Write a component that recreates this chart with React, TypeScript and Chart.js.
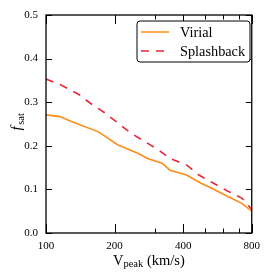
import React, { useEffect, useRef } from "react";
import { Chart, registerables } from "chart.js";

Chart.register(...registerables);

const virialV = [100, 115, 130, 170, 207, 253, 279, 323, 350, 414, 479, 537, 631, 724, 800];
const virialF = [0.271, 0.267, 0.255, 0.232, 0.202, 0.183, 0.171, 0.16, 0.144, 0.133, 0.114, 0.102, 0.083, 0.068, 0.05];
const splashV = [100, 117, 140, 157, 182, 207, 236, 265, 313, 350, 414, 469, 544, 623, 724, 760, 800];
const splashF = [0.353, 0.339, 0.317, 0.297, 0.275, 0.252, 0.229, 0.213, 0.19, 0.171, 0.156, 0.133, 0.114, 0.097, 0.08, 0.068, 0.054];
const xTicks = [100, 200, 400, 800];
const xMinorTicks = [300, 500, 600, 700];
const yTicks = [0, 0.1, 0.2, 0.3, 0.4, 0.5];
const seriesNames = ["Virial", "Splashback"];
const ORANGE = "#ff8c1a";
const RED = "#e8283a";
const FONT = "'Liberation Serif', 'DejaVu Serif', serif";

const decorPlugin = {
  id: "decor",
  afterDraw(chart: any) {
    const ctx = chart.ctx as CanvasRenderingContext2D;
    const a = chart.chartArea;
    const xs = chart.scales.x;
    const ys = chart.scales.y;
    ctx.save();
    // ticks
    ctx.strokeStyle = "#000";
    ctx.lineWidth = 1;
    ctx.beginPath();
    const xt = (v: number, len: number) => {
      const px = Math.round(xs.getPixelForValue(v)) + 0.5;
      ctx.moveTo(px, a.bottom);
      ctx.lineTo(px, a.bottom - len);
      ctx.moveTo(px, a.top);
      ctx.lineTo(px, a.top + len);
    };
    xTicks.forEach((v) => xt(v, 9));
    xMinorTicks.forEach((v) => xt(v, 4.5));
    yTicks.forEach((v) => {
      const py = Math.round(ys.getPixelForValue(v)) + 0.5;
      ctx.moveTo(a.left, py);
      ctx.lineTo(a.left + 6, py);
      ctx.moveTo(a.right, py);
      ctx.lineTo(a.right - 6, py);
    });
    ctx.stroke();
    // border
    ctx.lineWidth = 1.3;
    ctx.strokeRect(a.left, a.top, a.right - a.left, a.bottom - a.top);

    // legend
    const lx = 137, ly = 21, lw = 113, lh = 41, r = 3;
    ctx.beginPath();
    ctx.moveTo(lx + r, ly);
    ctx.lineTo(lx + lw - r, ly);
    ctx.arcTo(lx + lw, ly, lx + lw, ly + r, r);
    ctx.lineTo(lx + lw, ly + lh - r);
    ctx.arcTo(lx + lw, ly + lh, lx + lw - r, ly + lh, r);
    ctx.lineTo(lx + r, ly + lh);
    ctx.arcTo(lx, ly + lh, lx, ly + lh - r, r);
    ctx.lineTo(lx, ly + r);
    ctx.arcTo(lx, ly, lx + r, ly, r);
    ctx.closePath();
    ctx.fillStyle = "#fff";
    ctx.fill();
    ctx.lineWidth = 1;
    ctx.strokeStyle = "#000";
    ctx.stroke();

    ctx.lineWidth = 1.5;
    ctx.strokeStyle = ORANGE;
    ctx.beginPath();
    ctx.moveTo(141, 32);
    ctx.lineTo(169, 32);
    ctx.stroke();
    ctx.strokeStyle = RED;
    ctx.setLineDash([8, 7]);
    ctx.beginPath();
    ctx.moveTo(141, 51);
    ctx.lineTo(169, 51);
    ctx.stroke();
    ctx.setLineDash([]);

    ctx.fillStyle = "#000";
    ctx.font = `14.3px ${FONT}`;
    ctx.textAlign = "left";
    ctx.textBaseline = "alphabetic";
    ctx.fillText(seriesNames[0], 180, 36.5);
    ctx.fillText(seriesNames[1], 180, 55.5);

    // x axis title
    const big = `14.5px ${FONT}`;
    const small = `10.5px ${FONT}`;
    ctx.font = big;
    const wV = ctx.measureText("V").width;
    const wRest = ctx.measureText(" (km/s)").width;
    ctx.font = small;
    const wSub = ctx.measureText("peak").width;
    const total = wV + wSub + wRest;
    let x0 = (a.left + a.right) / 2 - total / 2;
    const base = 264.5;
    ctx.font = big;
    ctx.fillText("V", x0, base);
    x0 += wV;
    ctx.font = small;
    ctx.fillText("peak", x0, base + 2.5);
    x0 += wSub;
    ctx.font = big;
    ctx.fillText(" (km/s)", x0, base);

    // y axis title
    ctx.translate(21, 122);
    ctx.rotate(-Math.PI / 2);
    const fi = `italic 15px ${FONT}`;
    ctx.font = fi;
    const wf = ctx.measureText("f").width;
    ctx.font = small;
    const ws = ctx.measureText("sat").width;
    let y0 = -(wf + ws + 1) / 2;
    ctx.font = fi;
    ctx.fillText("f", y0, 0);
    ctx.font = small;
    ctx.fillText("sat", y0 + wf + 1.5, 2.5);
    ctx.restore();
  },
};

export default function App() {
  const ref = useRef<HTMLCanvasElement | null>(null);
  useEffect(() => {
    if (!ref.current) return;
    const chart = new Chart(ref.current, {
      type: "line",
      data: {
        datasets: [
          {
            label: seriesNames[0],
            data: virialV.map((v, i) => ({ x: v, y: virialF[i] })),
            borderColor: ORANGE,
            borderWidth: 1.6,
            pointRadius: 0,
            tension: 0,
            fill: false,
          },
          {
            label: seriesNames[1],
            data: splashV.map((v, i) => ({ x: v, y: splashF[i] })),
            borderColor: RED,
            borderWidth: 1.6,
            borderDash: [8, 7],
            pointRadius: 0,
            tension: 0,
            fill: false,
          },
        ],
      },
      options: {
        animation: false,
        responsive: false,
        devicePixelRatio: 1,
        layout: { padding: { left: 0, top: 15, right: 10, bottom: 0 } },
        plugins: { legend: { display: false }, tooltip: { enabled: false } },
        scales: {
          x: {
            type: "logarithmic",
            min: 100,
            max: 800,
            grid: { display: false, drawTicks: false },
            border: { display: false },
            afterBuildTicks: (s: any) => {
              s.ticks = xTicks.map((v) => ({ value: v }));
            },
            afterFit: (s: any) => {
              s.height = 39;
            },
            ticks: {
              autoSkip: false,
              maxRotation: 0,
              padding: 7,
              color: "#000",
              font: { family: FONT, size: 11 },
              callback: (v: any) => String(v),
            },
          },
          y: {
            min: 0,
            max: 0.5,
            grid: { display: false, drawTicks: false },
            border: { display: false },
            afterBuildTicks: (s: any) => {
              s.ticks = yTicks.map((v) => ({ value: v }));
            },
            afterFit: (s: any) => {
              s.width = 46;
            },
            ticks: {
              padding: 8,
              color: "#000",
              font: { family: FONT, size: 11 },
              callback: (v: any) => Number(v).toFixed(1),
            },
          },
        },
      } as any,
      plugins: [decorPlugin],
    });
    return () => chart.destroy();
  }, []);
  return (
    <div style={{ position: "absolute", left: 0, top: 0, width: 267, height: 272, background: "#fff" }}>
      <canvas ref={ref} width={267} height={272} />
    </div>
  );
}
